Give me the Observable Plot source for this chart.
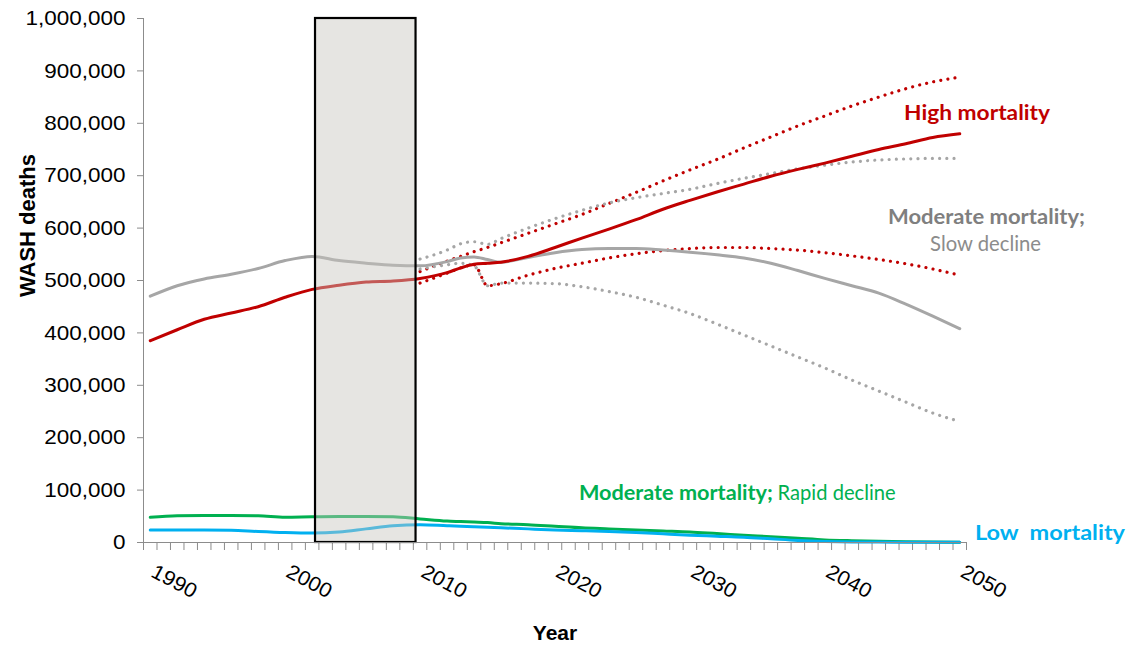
<!DOCTYPE html>
<html>
<head>
<meta charset="utf-8">
<script src="https://cdn.jsdelivr.net/npm/d3@7"></script>
<script src="https://cdn.jsdelivr.net/npm/@observablehq/plot@0.6"></script>
<style>
  html, body { margin: 0; padding: 0; background: #fff; }
  #chart svg { display: block; }
</style>
</head>
<body>
<div id="chart"></div>
<script>
// ---- Data ----
const years = [1990, 1992, 1994, 1996, 1998, 2000, 2002, 2004, 2006, 2008, 2010, 2012, 2013, 2014, 2015, 2016, 2018, 2020, 2022, 2024, 2026, 2028, 2030, 2032, 2034, 2036, 2038, 2040, 2042, 2044, 2046, 2048, 2050];

const highMortality = [385000, 406000, 426000, 438000, 450000, 468000, 483000, 491000, 497000, 499000, 504000, 515000, 524000, 531000, 533000, 535000, 546000, 563000, 581000, 598000, 616000, 636000, 653000, 669000, 684000, 699000, 712000, 724000, 737000, 750000, 761000, 773000, 780000];
const highUpper = [null, null, null, null, null, null, null, null, null, null, 517000, 537000, 546000, 555000, 563000, 572000, 590000, 608000, 626000, 647000, 668000, 690000, 711000, 731000, 753000, 774000, 795000, 814000, 833000, 850000, 866000, 879000, 888000];
const highLower = [null, null, null, null, null, null, null, null, null, null, 495000, 514000, 524000, 530000, 490000, 494000, 510000, 523000, 533000, 543000, 551000, 557000, 561000, 563000, 563000, 561000, 558000, 553000, 547000, 540000, 532000, 522000, 510000];

const moderateSlow = [470000, 490000, 503000, 512000, 523000, 538000, 546000, 538000, 533000, 529000, 528000, 536000, 543000, 545000, 540000, 535000, 544000, 553000, 559000, 561000, 561000, 558000, 554000, 549000, 543000, 533000, 519000, 504000, 490000, 476000, 455000, 432000, 408000];
const moderateUpper = [null, null, null, null, null, null, null, null, null, null, 541000, 558000, 570000, 574000, 569000, 580000, 600000, 618000, 634000, 648000, 658000, 666000, 674000, 685000, 695000, 704000, 713000, 720000, 726000, 730000, 732000, 733000, 733000];
const moderateLower = [null, null, null, null, null, null, null, null, null, null, 522000, 530000, 533000, 528000, 490000, 495000, 495000, 494000, 488000, 479000, 468000, 453000, 437000, 417000, 396000, 375000, 354000, 333000, 310000, 289000, 268000, 247000, 231000];

const moderateRapid = [48000, 51000, 51500, 51500, 51000, 48000, 49000, 49500, 49500, 49000, 45000, 41000, 40000, 39000, 38000, 36000, 34000, 31000, 28000, 26000, 24000, 22000, 20000, 17000, 14000, 11000, 8000, 5000, 3500, 2500, 1500, 1000, 500];
const lowMortality = [24000, 24000, 24000, 23500, 21000, 19000, 18000, 20000, 26000, 32000, 34000, 32000, 31000, 30000, 29000, 28000, 26000, 24000, 22500, 21000, 19000, 16500, 14000, 12000, 10000, 7000, 4000, 2000, 1000, 800, 600, 500, 500];

const shadedPeriod = [2002.25, 2009.7];
const xLabelYears = [1990, 2000, 2010, 2020, 2030, 2040, 2050];
const yTicks = [0, 100000, 200000, 300000, 400000, 500000, 600000, 700000, 800000, 900000, 1000000];

// ---- Build tables ----
const toRows = (vals) => years.map((year, i) => ({year, value: vals[i]})).filter(d => d.value != null);

const dotted = [
  {vals: highUpper, color: "#c00000"},
  {vals: highLower, color: "#c00000"},
  {vals: moderateUpper, color: "#a6a6a6"},
  {vals: moderateLower, color: "#a6a6a6"}
];
const solid = [
  {vals: moderateSlow, color: "#a6a6a6"},
  {vals: highMortality, color: "#c00000"},
  {vals: moderateRapid, color: "#00b050"},
  {vals: lowMortality, color: "#00b0f0"}
];

const boundaries = d3.range(1989.5, 2051, 1);

const annFont = "Lato, 'Open Sans', sans-serif";
const annotations = [
  {text: "High mortality", year: 2045.87, value: 818000, anchor: "start", weight: "bold", color: "#c00000", width: 146},
  {text: "Moderate mortality;", year: 2044.68, value: 620000, anchor: "start", weight: "bold", color: "#7f7f7f", width: 197},
  {text: "Slow decline", year: 2047.8, value: 568500, anchor: "start", weight: "normal", color: "#8c8c8c", width: 111},
  {text: "Moderate mortality;", year: 2036.15, value: 93500, anchor: "end", weight: "bold", color: "#00b050", width: 194},
  {text: "Rapid decline", year: 2036.5, value: 93500, anchor: "start", weight: "normal", color: "#00b050", width: 118},
  {text: "Low  mortality", year: 2051.13, value: 17200, anchor: "start", weight: "bold", color: "#00b0f0", width: 150}
];

const marks = [];

// axes lines and ticks
marks.push(Plot.ruleX([1989.5], {stroke: "#8c8c8c", strokeWidth: 1}));
marks.push(Plot.axisY({ticks: yTicks, tickFormat: d3.format(","), tickSize: 6, tickPadding: 12, fontSize: 21, stroke: "#8c8c8c", fill: "#000", label: null}));
marks.push(Plot.axisX({ticks: boundaries, tickFormat: () => "", tickSize: 8, stroke: "#8c8c8c", label: null}));

// dotted projections
for (const s of dotted) {
  marks.push(Plot.line(toRows(s.vals), {x: "year", y: "value", stroke: s.color, strokeWidth: 3.2, strokeDasharray: "0.01 7.2", strokeLinecap: "round", curve: "monotone-x"}));
}
// solid lines
for (const s of solid) {
  marks.push(Plot.line(toRows(s.vals), {x: "year", y: "value", stroke: s.color, strokeWidth: 3, curve: "monotone-x"}));
}

// shaded period box (semi transparent, on top)
marks.push(Plot.rect([{start: shadedPeriod[0], end: shadedPeriod[1], lo: 0, hi: 1000000}], {x1: "start", x2: "end", y1: "lo", y2: "hi", fill: "rgb(200,198,190)", fillOpacity: 0.45, stroke: "#000", strokeWidth: 2.2}));

marks.push(Plot.ruleY([0], {stroke: "#8c8c8c", strokeWidth: 1}));

// x tick labels
marks.push(Plot.text(xLabelYears, {x: d => d, frameAnchor: "bottom", text: d => String(d), dx: 24, dy: 39, rotate: 28, textAnchor: "middle", lineAnchor: "middle", fontSize: 20.5, fill: "#000", ariaLabel: () => "xlabel"}));

// axis titles
marks.push(Plot.text(["WASH deaths"], {text: d => d, frameAnchor: "left", dx: -116, dy: -55, rotate: -90, textAnchor: "middle", lineAnchor: "middle", fontSize: 22, fontWeight: "bold", fill: "#000"}));
marks.push(Plot.text(["Year"], {text: d => d, frameAnchor: "bottom", dy: 91, textAnchor: "middle", lineAnchor: "middle", fontSize: 21, fontWeight: "bold", fill: "#000"}));

// annotations
annotations.forEach((a, i) => {
  marks.push(Plot.text([a], {x: "year", y: "value", text: "text", textAnchor: a.anchor, lineAnchor: "middle", fontSize: 20.5, fontWeight: a.weight, fill: a.color, fontFamily: annFont, ariaLabel: () => "ann-" + i}));
});

const chart = Plot.plot({
  width: 1141,
  height: 645,
  marginLeft: 143,
  marginRight: 175,
  marginTop: 18,
  marginBottom: 103,
  x: {domain: [1989.5, 2050.5], axis: null},
  y: {domain: [0, 1000000], axis: null},
  style: {fontFamily: "'Liberation Sans', Arial, sans-serif", background: "#fff", color: "#000", overflow: "visible"},
  marks
});

document.getElementById("chart").appendChild(chart);

// Widen texts horizontally to match the reference's stretched lettering
function stretchTo(el, width) {
  el.setAttribute("textLength", width);
  el.setAttribute("lengthAdjust", "spacingAndGlyphs");
}
function textsFor(label) {
  const out = [];
  chart.querySelectorAll(`[aria-label="${label}"]`).forEach(el => {
    if (el.tagName.toLowerCase() === "text") out.push(el);
    else el.querySelectorAll("text").forEach(t => out.push(t));
  });
  return out;
}
annotations.forEach((a, i) => {
  textsFor("ann-" + i).forEach(t => {
    t.style.whiteSpace = "pre";
    stretchTo(t, a.width);
  });
});
chart.querySelectorAll('g[aria-label="y-axis tick label"] text').forEach(t => {
  stretchTo(t, t.getComputedTextLength() * 1.07);
});
textsFor("xlabel").forEach(t => {
  stretchTo(t, t.getComputedTextLength() * 1.06);
});
</script>
</body>
</html>
